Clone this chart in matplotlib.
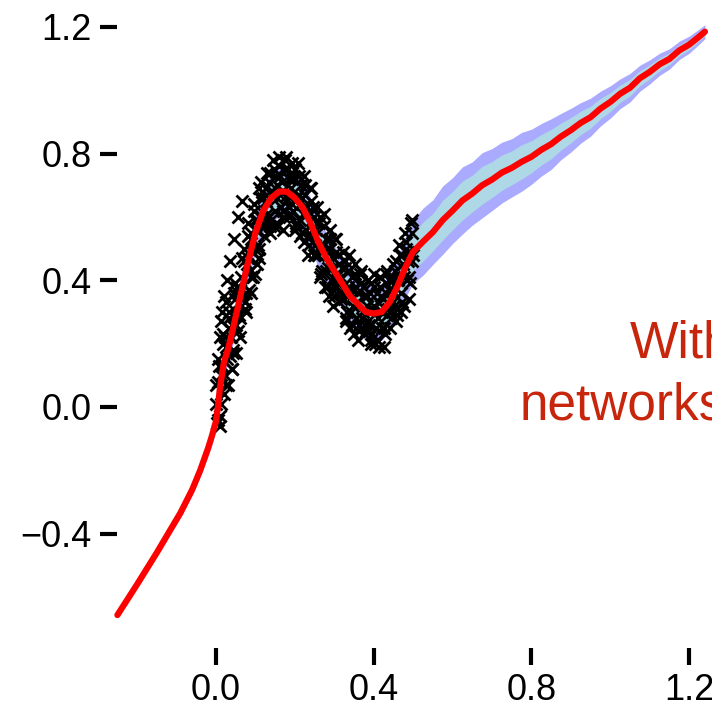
import matplotlib
matplotlib.use("Agg")
import numpy as np
import matplotlib.pyplot as plt

plt.rcParams['font.family'] = ['Liberation Sans', 'DejaVu Sans']

# mean curve (red) and half widths of the outer (lavender) band
line_x = [-0.25, -0.20, -0.15, -0.12, -0.09, -0.06, -0.04, -0.02, -0.01, 0.00,
          0.005, 0.01, 0.02, 0.03, 0.04, 0.06, 0.08, 0.10, 0.12, 0.14,
          0.16, 0.18, 0.20, 0.22, 0.24, 0.26, 0.28, 0.30, 0.32, 0.34,
          0.36, 0.38, 0.40, 0.42, 0.44, 0.46, 0.48, 0.500, 0.525, 0.550,
          0.575, 0.600, 0.625, 0.650, 0.675, 0.700, 0.725, 0.750, 0.775, 0.800,
          0.825, 0.850, 0.875, 0.900, 0.925, 0.950, 0.975, 1.000, 1.025, 1.050,
          1.075, 1.100, 1.125, 1.150, 1.175, 1.200, 1.225, 1.240]
line_y = [-0.657, -0.56, -0.46, -0.397, -0.334, -0.26, -0.20, -0.13, -0.09, -0.045,
          0.00, 0.06, 0.14, 0.18, 0.23, 0.34, 0.45, 0.55, 0.62, 0.66,
          0.68, 0.68, 0.66, 0.63, 0.58, 0.52, 0.47, 0.43, 0.39, 0.35,
          0.325, 0.30, 0.295, 0.30, 0.33, 0.38, 0.44, 0.490, 0.522, 0.552,
          0.590, 0.620, 0.652, 0.674, 0.700, 0.718, 0.740, 0.755, 0.774, 0.790,
          0.812, 0.830, 0.854, 0.874, 0.897, 0.915, 0.942, 0.963, 0.989, 1.008,
          1.038, 1.058, 1.082, 1.099, 1.126, 1.144, 1.169, 1.185]
outer_w = [0.0, 0.005, 0.01, 0.012, 0.015, 0.018, 0.02, 0.025, 0.028, 0.03,
           0.032, 0.035, 0.04, 0.045, 0.05, 0.055, 0.06, 0.065, 0.07, 0.075,
           0.08, 0.08, 0.08, 0.08, 0.08, 0.08, 0.08, 0.08, 0.08, 0.085,
           0.085, 0.09, 0.09, 0.09, 0.09, 0.095, 0.095, 0.100, 0.106, 0.102,
           0.108, 0.104, 0.106, 0.100, 0.103, 0.098, 0.096, 0.092, 0.093, 0.087,
           0.083, 0.080, 0.073, 0.069, 0.064, 0.060, 0.055, 0.051, 0.047, 0.045,
           0.041, 0.038, 0.035, 0.032, 0.029, 0.027, 0.024, 0.022]
inner_ratio = 0.58

# observations (black x), three runs
obs_x_a = [0.000, 0.004, 0.008, 0.012, 0.016, 0.020, 0.024, 0.028, 0.032, 0.036,
           0.040, 0.044, 0.048, 0.052, 0.056, 0.060, 0.064, 0.068, 0.072, 0.076,
           0.080, 0.084, 0.088, 0.092, 0.096, 0.100, 0.104, 0.108, 0.112, 0.116,
           0.120, 0.124, 0.128, 0.132, 0.136, 0.140, 0.144, 0.148, 0.152, 0.156,
           0.160, 0.164, 0.168, 0.172, 0.176, 0.180, 0.184, 0.188, 0.192, 0.196,
           0.200, 0.204, 0.208, 0.212, 0.216, 0.220, 0.224, 0.228, 0.232, 0.236,
           0.240, 0.244, 0.248, 0.252, 0.256, 0.260, 0.264, 0.268, 0.272, 0.276,
           0.280, 0.284, 0.288, 0.292, 0.296, 0.300, 0.304, 0.308, 0.312, 0.316,
           0.320, 0.324, 0.328, 0.332, 0.336, 0.340, 0.344, 0.348, 0.352, 0.356,
           0.360, 0.364, 0.368, 0.372, 0.376, 0.380, 0.384, 0.388, 0.392, 0.396,
           0.400, 0.404, 0.408, 0.412, 0.416, 0.420, 0.424, 0.428, 0.432, 0.436,
           0.440, 0.444, 0.448, 0.452, 0.456, 0.460, 0.464, 0.468, 0.472, 0.476,
           0.480, 0.484, 0.488, 0.492, 0.496, 0.500]
obs_y_a = [0.01, -0.04, 0.13, 0.01, 0.13, 0.04, 0.22, 0.15, 0.30, 0.16,
           0.26, 0.17, 0.34, 0.29, 0.36, 0.28, 0.41, 0.34, 0.50, 0.36,
           0.47, 0.37, 0.55, 0.49, 0.64, 0.50, 0.59, 0.50, 0.66, 0.60,
           0.66, 0.57, 0.69, 0.60, 0.74, 0.59, 0.68, 0.57, 0.73, 0.66,
           0.79, 0.63, 0.71, 0.60, 0.75, 0.67, 0.72, 0.61, 0.72, 0.62,
           0.75, 0.58, 0.67, 0.54, 0.70, 0.61, 0.73, 0.56, 0.63, 0.51,
           0.65, 0.56, 0.60, 0.48, 0.58, 0.48, 0.60, 0.43, 0.51, 0.38,
           0.53, 0.44, 0.56, 0.40, 0.47, 0.35, 0.49, 0.40, 0.45, 0.34,
           0.44, 0.34, 0.46, 0.30, 0.38, 0.25, 0.41, 0.32, 0.45, 0.28,
           0.36, 0.24, 0.39, 0.30, 0.35, 0.24, 0.35, 0.26, 0.39, 0.23,
           0.32, 0.20, 0.36, 0.28, 0.41, 0.25, 0.34, 0.23, 0.39, 0.31,
           0.37, 0.28, 0.40, 0.32, 0.46, 0.31, 0.41, 0.30, 0.48, 0.41,
           0.55, 0.40, 0.49, 0.39, 0.55, 0.48]
obs_x_b = [0.002, 0.006, 0.010, 0.014, 0.018, 0.022, 0.026, 0.030, 0.034, 0.038,
           0.042, 0.046, 0.050, 0.054, 0.058, 0.062, 0.066, 0.070, 0.074, 0.078,
           0.082, 0.086, 0.090, 0.094, 0.098, 0.102, 0.106, 0.110, 0.114, 0.118,
           0.122, 0.126, 0.130, 0.134, 0.138, 0.142, 0.146, 0.150, 0.154, 0.158,
           0.162, 0.166, 0.170, 0.174, 0.178, 0.182, 0.186, 0.190, 0.194, 0.198,
           0.202, 0.206, 0.210, 0.214, 0.218, 0.222, 0.226, 0.230, 0.234, 0.238,
           0.242, 0.246, 0.250, 0.254, 0.258, 0.262, 0.266, 0.270, 0.274, 0.278,
           0.282, 0.286, 0.290, 0.294, 0.298, 0.302, 0.306, 0.310, 0.314, 0.318,
           0.322, 0.326, 0.330, 0.334, 0.338, 0.342, 0.346, 0.350, 0.354, 0.358,
           0.362, 0.366, 0.370, 0.374, 0.378, 0.382, 0.386, 0.390, 0.394, 0.398,
           0.402, 0.406, 0.410, 0.414, 0.418, 0.422, 0.426, 0.430, 0.434, 0.438,
           0.442, 0.446, 0.450, 0.454, 0.458, 0.462, 0.466, 0.470, 0.474, 0.478,
           0.482, 0.486, 0.490, 0.494, 0.498]
obs_y_b = [-0.05, 0.08, -0.03, 0.10, 0.20, 0.10, 0.19, 0.07, 0.25, 0.22,
           0.18, 0.36, 0.26, 0.38, 0.29, 0.37, 0.34, 0.46, 0.33, 0.45,
           0.54, 0.43, 0.53, 0.41, 0.59, 0.56, 0.51, 0.69, 0.57, 0.68,
           0.58, 0.65, 0.61, 0.71, 0.57, 0.67, 0.75, 0.62, 0.70, 0.57,
           0.73, 0.68, 0.62, 0.78, 0.65, 0.75, 0.63, 0.69, 0.64, 0.72,
           0.57, 0.66, 0.73, 0.59, 0.66, 0.52, 0.67, 0.61, 0.54, 0.69,
           0.54, 0.63, 0.51, 0.56, 0.50, 0.58, 0.42, 0.51, 0.57, 0.43,
           0.50, 0.35, 0.50, 0.44, 0.37, 0.53, 0.39, 0.48, 0.36, 0.41,
           0.36, 0.44, 0.28, 0.37, 0.43, 0.30, 0.37, 0.23, 0.38, 0.33,
           0.26, 0.42, 0.28, 0.38, 0.26, 0.32, 0.27, 0.36, 0.21, 0.31,
           0.38, 0.25, 0.33, 0.19, 0.35, 0.30, 0.25, 0.42, 0.29, 0.40,
           0.30, 0.37, 0.33, 0.43, 0.29, 0.40, 0.48, 0.36, 0.45, 0.32,
           0.50, 0.46, 0.41, 0.58, 0.46]
obs_x_c = [0.001, 0.009, 0.017, 0.025, 0.033, 0.041, 0.049, 0.057, 0.065, 0.073,
           0.081, 0.089, 0.097, 0.105, 0.113, 0.121, 0.129, 0.137, 0.145, 0.153,
           0.161, 0.169, 0.177, 0.185, 0.193, 0.201, 0.209, 0.217, 0.225, 0.233,
           0.241, 0.249, 0.257, 0.265, 0.273, 0.281, 0.289, 0.297, 0.305, 0.313,
           0.321, 0.329, 0.337, 0.345, 0.353, 0.361, 0.369, 0.377, 0.385, 0.393,
           0.401, 0.409, 0.417, 0.425, 0.433, 0.441, 0.449, 0.457, 0.465, 0.473,
           0.481, 0.489, 0.497,
           0.010, 0.015, 0.020, 0.028, 0.035, 0.045, 0.055, 0.065, 0.040, 0.050,
           0.060, 0.075, 0.090, 0.100, 0.110, 0.005, 0.012, 0.025]
obs_y_c = [0.07, -0.06, 0.23, 0.07, 0.28, 0.12, 0.39, 0.24, 0.47, 0.31,
           0.58, 0.41, 0.62, 0.45, 0.71, 0.54, 0.74, 0.55, 0.78, 0.58,
           0.76, 0.56, 0.79, 0.60, 0.77, 0.56, 0.77, 0.55, 0.70, 0.48,
           0.69, 0.48, 0.63, 0.41, 0.61, 0.38, 0.53, 0.32, 0.53, 0.33,
           0.49, 0.27, 0.48, 0.26, 0.42, 0.21, 0.43, 0.23, 0.40, 0.20,
           0.42, 0.21, 0.38, 0.19, 0.43, 0.25, 0.45, 0.27, 0.51, 0.33,
           0.52, 0.34, 0.59,
           0.22, 0.30, 0.35, 0.40, 0.46, 0.53, 0.60, 0.65, 0.12, 0.17,
           0.22, 0.30, 0.36, 0.42, 0.47, 0.15, 0.27, 0.33]

x_ticks = [0.0, 0.4, 0.8, 1.2]
y_ticks = [-0.4, 0.0, 0.4, 0.8, 1.2]
x_labels = ['0.0', '0.4', '0.8', '1.2']
y_labels = ['\u22120.4', '0.0', '0.4', '0.8', '1.2']

W, H = 712, 706
fig = plt.figure(figsize=(W / 100, H / 100), dpi=100)
ax = fig.add_axes([117 / W, (H - 647.7) / H, (712.8 - 117) / W, (647.7 - 20.6) / H])

lx = np.array(line_x)
ly = np.array(line_y)
ow = np.array(outer_w)
iw = ow * inner_ratio

ax.fill_between(lx, ly - ow, ly + ow, color='#aaaaff', lw=0, clip_on=False, zorder=1)
ax.fill_between(lx, ly - iw, ly + iw, color='#aed8e6', lw=0, clip_on=False, zorder=2)
ax.plot(obs_x_a + obs_x_b + obs_x_c, obs_y_a + obs_y_b + obs_y_c, 'x', color='black',
        ms=9, mew=2, clip_on=False, zorder=3)
ax.plot(lx, ly, color='#ff0000', lw=4.5, solid_capstyle='round', clip_on=False, zorder=4)

ax.set_xlim(-0.251, 1.26)
ax.set_ylim(-0.76, 1.22)
for s in ax.spines.values():
    s.set_visible(False)
ax.set_xticks(x_ticks)
ax.set_yticks(y_ticks)
ax.set_xticklabels(x_labels)
ax.set_yticklabels(y_labels)
ax.tick_params(direction='out', length=12, width=3, pad=6.5, labelsize=26, color='black')

fig.text(630 / W, 1 - 357 / H, 'With', color='#c8260c', fontsize=37, va='baseline', ha='left')
fig.text(520 / W, 1 - 420 / H, 'networks', color='#c8260c', fontsize=37, va='baseline', ha='left')

fig.savefig('out.png', dpi=100)
